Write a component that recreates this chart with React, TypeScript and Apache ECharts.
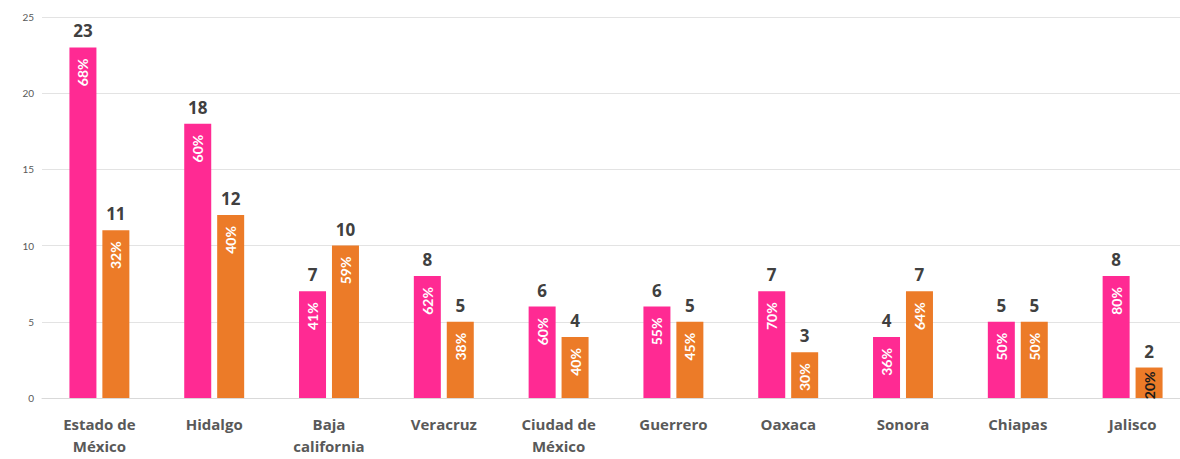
import React, { useEffect, useRef } from "react";
import * as echarts from "echarts";

const categories = [
  "Estado de\nMéxico",
  "Hidalgo",
  "Baja\ncalifornia",
  "Veracruz",
  "Ciudad de\nMéxico",
  "Guerrero",
  "Oaxaca",
  "Sonora",
  "Chiapas",
  "Jalisco",
];
const pinkValues = [23, 18, 7, 8, 6, 6, 7, 4, 5, 8];
const orangeValues = [11, 12, 10, 5, 4, 5, 3, 7, 5, 2];
const pinkPct = [68, 60, 41, 62, 60, 55, 70, 36, 50, 80];
const orangePct = [32, 40, 59, 38, 40, 45, 30, 64, 50, 20];
const yTicks = [0, 5, 10, 15, 20, 25];

const PINK = "#FF2A93";
const ORANGE = "#EC7B28";
const FONT = "Lato, 'Open Sans', sans-serif";
const FONT_WIDE = "'Open Sans', Lato, sans-serif";

export default function App() {
  const ref = useRef<HTMLDivElement>(null);
  useEffect(() => {
    if (!ref.current) return;
    const chart = echarts.init(ref.current, undefined, { renderer: "svg" });
    const pctLabel = (pcts: number[]) => ({
      show: true,
      position: "insideTop",
      rotate: 90,
      distance: 11,
      align: "right",
      verticalAlign: "middle",
      fontFamily: FONT,
      fontWeight: "bold",
      fontSize: 14,
      color: "#ffffff",
      formatter: (p: any) => pcts[p.dataIndex] + "%",
    });
    const topLabel = (vals: number[]) => ({
      show: true,
      position: "top",
      distance: 8,
      fontFamily: FONT_WIDE,
      fontWeight: "bold",
      fontSize: 17,
      color: "#404040",
      formatter: (p: any) => String(vals[p.dataIndex]),
    });
    const orangeData = orangeValues.map((v) =>
      v <= 2 ? { value: v, label: { color: "#1a1a1a", distance: 4 } } : v
    );
    chart.setOption({
      animation: false,
      grid: { left: 42, right: -10, top: 17, bottom: 61, outerBoundsMode: "none", containLabel: false },
      xAxis: {
        type: "category",
        data: categories,
        axisLine: { show: true, lineStyle: { color: "#d9d9d9" } },
        axisTick: { show: false },
        axisLabel: {
          margin: 15,
          fontFamily: FONT_WIDE,
          fontWeight: "bold",
          fontSize: 15,
          lineHeight: 22,
          color: "#595959",
          interval: 0,
        },
      },
      yAxis: {
        type: "value",
        min: 0,
        max: 25,
        interval: 5,
        axisLine: { show: false },
        axisTick: { show: false },
        splitLine: { lineStyle: { color: "#e3e3e3" } },
        axisLabel: {
          margin: 8,
          fontFamily: FONT,
          fontSize: 10,
          color: "#595959",
          formatter: (v: number) => (yTicks.includes(v) ? String(v) : ""),
        },
      },
      series: [
        {
          type: "bar",
          stack: "p",
          data: pinkValues,
          barWidth: 27,
          barGap: "22%",
          itemStyle: { color: PINK },
          label: pctLabel(pinkPct),
        },
        {
          type: "bar",
          stack: "p",
          data: pinkValues.map(() => 0),
          barWidth: 27,
          itemStyle: { color: PINK },
          label: topLabel(pinkValues),
        },
        {
          type: "bar",
          stack: "o",
          data: orangeData,
          barWidth: 27,
          barGap: "22%",
          itemStyle: { color: ORANGE },
          label: pctLabel(orangePct),
        },
        {
          type: "bar",
          stack: "o",
          data: orangeValues.map(() => 0),
          barWidth: 27,
          itemStyle: { color: ORANGE },
          label: topLabel(orangeValues),
        },
      ],
    });
    return () => chart.dispose();
  }, []);
  return (
    <div
      ref={ref}
      style={{ position: "fixed", left: 0, top: 0, width: 1180, height: 459, background: "#ffffff" }}
    />
  );
}
